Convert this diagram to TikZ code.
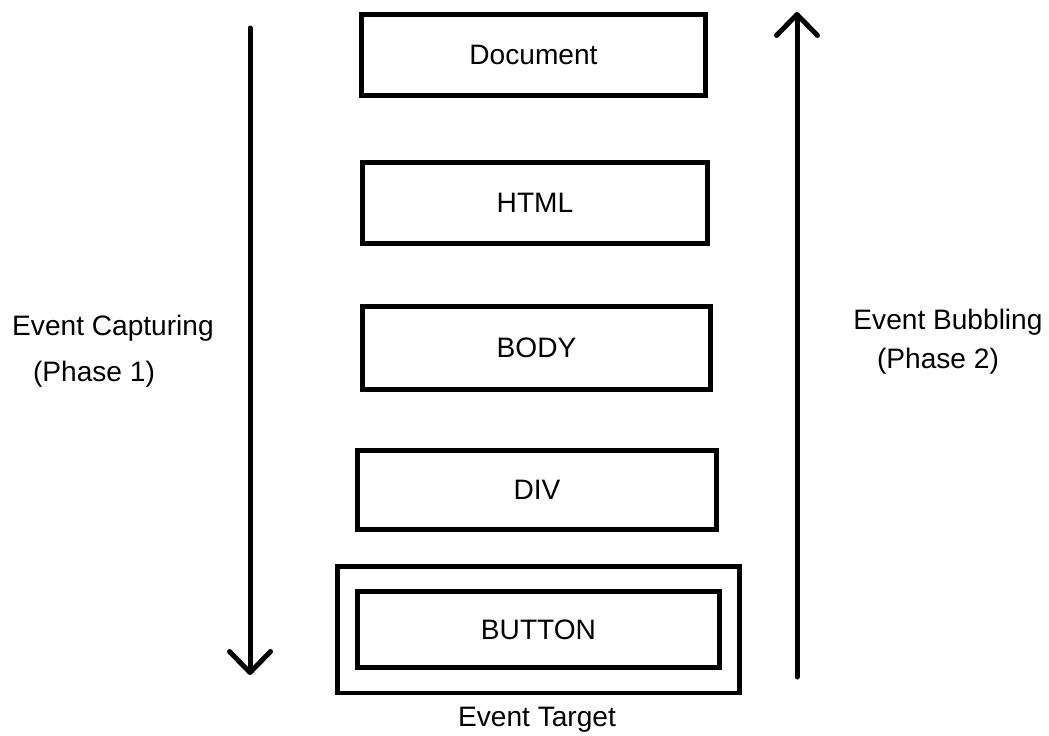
\documentclass[tikz,border=0pt]{standalone}
\usepackage{fontspec}
\setmainfont{Liberation Sans}
\usetikzlibrary{arrows.meta, fit}

\begin{document}
\begin{tikzpicture}[x=0.02cm, y=-0.02cm,
    domnode/.style={rectangle, draw=black, line width=0.1cm, fill=white, font=\fontsize{16}{19}\selectfont, inner sep=0pt},
    phase/.style={font=\fontsize{16}{19}\selectfont, inner sep=0pt},
    flow/.style={draw=black, line width=0.1cm, line cap=round, -{Straight Barb[length=0.42cm, width=0.82cm, line cap=round, line join=round]}}]

    \useasboundingbox (0,0) rectangle (1049,735);

    \node [domnode, minimum width=6.88cm, minimum height=1.62cm] (document) at (533.5,55) {Document};
    \node [domnode, minimum width=6.9cm, minimum height=1.62cm] (html) at (535,203) {HTML};
    \node [domnode, minimum width=6.96cm, minimum height=1.66cm] (body) at (536.5,348) {BODY};
    \node [domnode, minimum width=7.18cm, minimum height=1.58cm] (div) at (537,490) {DIV};
    \node [domnode, minimum width=7.24cm, minimum height=1.52cm] (button) at (538.5,629.5) {BUTTON};
    \node [draw=black, line width=0.1cm, fit=(button), inner xsep=0.36cm, inner ysep=0.46cm] (target) {};
    \node [phase] (targetlabel) at (537,720) {Event Target};

    \coordinate (capstart) at (250,28);
    \coordinate (capend) at (250,675);
    \coordinate (bubstart) at (797,677);
    \coordinate (bubend) at (797,12);
    \path [flow] (capstart) -- (capend);
    \path [flow] (bubstart) -- (bubend);

    \node [phase] (capname) at (113,328) {Event Capturing};
    \node [phase] (capnum) at (94,374) {(Phase 1)};
    \node [phase] (bubname) at (948,322) {Event Bubbling};
    \node [phase] (bubnum) at (938,361) {(Phase 2)};
\end{tikzpicture}
\end{document}
